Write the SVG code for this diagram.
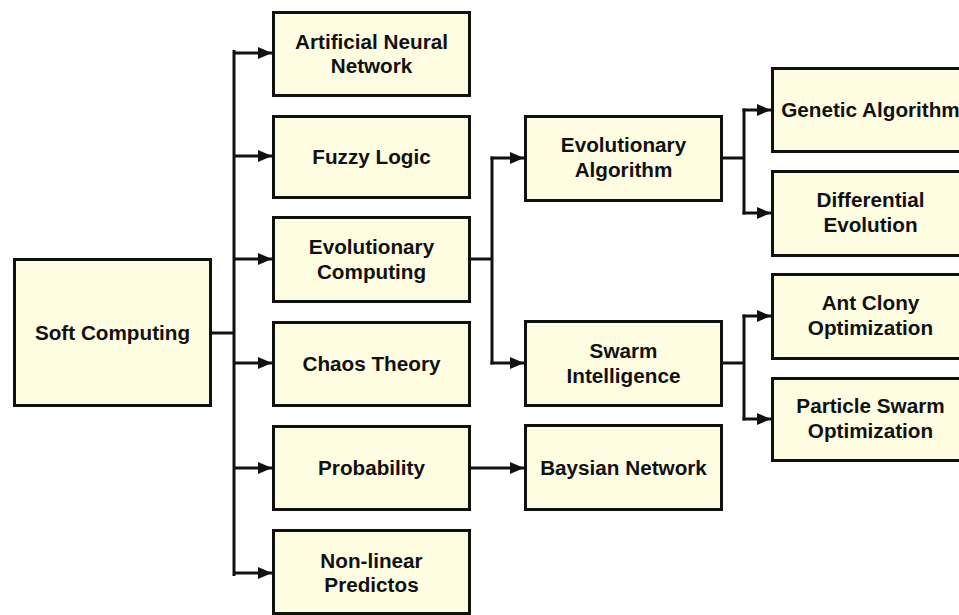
<svg xmlns="http://www.w3.org/2000/svg" width="959" height="615" viewBox="0 0 959 615">
<style>
.box rect{fill:#FFFDE1;stroke:#111;stroke-width:3}
.box text{font-family:"Liberation Sans",Arial,sans-serif;font-weight:bold;font-size:20.7px;fill:#111;text-anchor:middle}
.conn path{fill:none;stroke:#111;stroke-width:3}
.arr{marker-end:url(#ah)}
</style>
<defs>
<marker id="ah" markerUnits="userSpaceOnUse" markerWidth="15" markerHeight="13" refX="14" refY="6.5" orient="auto">
<path d="M0,0.5 L14,6.5 L0,12.5 z" fill="#111"/>
</marker>
</defs>
<g id="connectors" class="conn">
<path d="M212,333 H234"/>
<path d="M234,51.5 V574.5" stroke-linecap="square"/>
<path class="arr" d="M234,53 H272"/>
<path class="arr" d="M234,156 H272"/>
<path class="arr" d="M234,259 H272"/>
<path class="arr" d="M234,363 H272"/>
<path class="arr" d="M234,468 H272"/>
<path class="arr" d="M234,573 H272"/>
<path d="M471,259 H492"/>
<path d="M492,156.5 V364.5"/>
<path class="arr" d="M490.5,158 H524"/>
<path class="arr" d="M490.5,363 H524"/>
<path class="arr" d="M471,468 H524"/>
<path d="M723,158 H744"/>
<path d="M744,108.5 V214.5"/>
<path class="arr" d="M742.5,110 H771"/>
<path class="arr" d="M742.5,213 H771"/>
<path d="M723,363 H744"/>
<path d="M744,314.5 V420.5"/>
<path class="arr" d="M742.5,316 H771"/>
<path class="arr" d="M742.5,419 H771"/>
</g>
<g id="soft-computing" class="box"><rect x="14.5" y="259.5" width="196" height="146"/><text x="112.5" y="340">Soft Computing</text></g>
<g id="ann" class="box"><rect x="273.5" y="12.5" width="196" height="83"/><text x="371.5" y="49">Artificial Neural</text><text x="371.5" y="73">Network</text></g>
<g id="fuzzy-logic" class="box"><rect x="273.5" y="116.5" width="196" height="81"/><text x="371.5" y="164">Fuzzy Logic</text></g>
<g id="evolutionary-computing" class="box"><rect x="273.5" y="217.5" width="196" height="84"/><text x="371.5" y="254">Evolutionary</text><text x="371.5" y="279">Computing</text></g>
<g id="chaos-theory" class="box"><rect x="273.5" y="322.5" width="196" height="83"/><text x="371.5" y="371">Chaos Theory</text></g>
<g id="probability" class="box"><rect x="273.5" y="426.5" width="196" height="83"/><text x="371.5" y="475">Probability</text></g>
<g id="non-linear" class="box"><rect x="273.5" y="530.5" width="196" height="83"/><text x="371.5" y="568">Non-linear</text><text x="371.5" y="592">Predictos</text></g>
<g id="evolutionary-algorithm" class="box"><rect x="525.5" y="116.5" width="196" height="84"/><text x="623.5" y="152">Evolutionary</text><text x="623.5" y="177">Algorithm</text></g>
<g id="swarm-intelligence" class="box"><rect x="525.5" y="321.5" width="196" height="84"/><text x="623.5" y="358">Swarm</text><text x="623.5" y="383">Intelligence</text></g>
<g id="baysian-network" class="box"><rect x="525.5" y="425.5" width="196" height="84"/><text x="623.5" y="475">Baysian Network</text></g>
<g id="genetic-algorithm" class="box"><rect x="772.5" y="68.5" width="196" height="83"/><text x="870.5" y="117">Genetic Algorithm</text></g>
<g id="differential-evolution" class="box"><rect x="772.5" y="171.5" width="196" height="84"/><text x="870.5" y="207">Differential</text><text x="870.5" y="232">Evolution</text></g>
<g id="ant-colony" class="box"><rect x="772.5" y="274.5" width="196" height="84"/><text x="870.5" y="310">Ant Clony</text><text x="870.5" y="335">Optimization</text></g>
<g id="particle-swarm" class="box"><rect x="772.5" y="378.5" width="196" height="82"/><text x="870.5" y="413">Particle Swarm</text><text x="870.5" y="438">Optimization</text></g>
</svg>
